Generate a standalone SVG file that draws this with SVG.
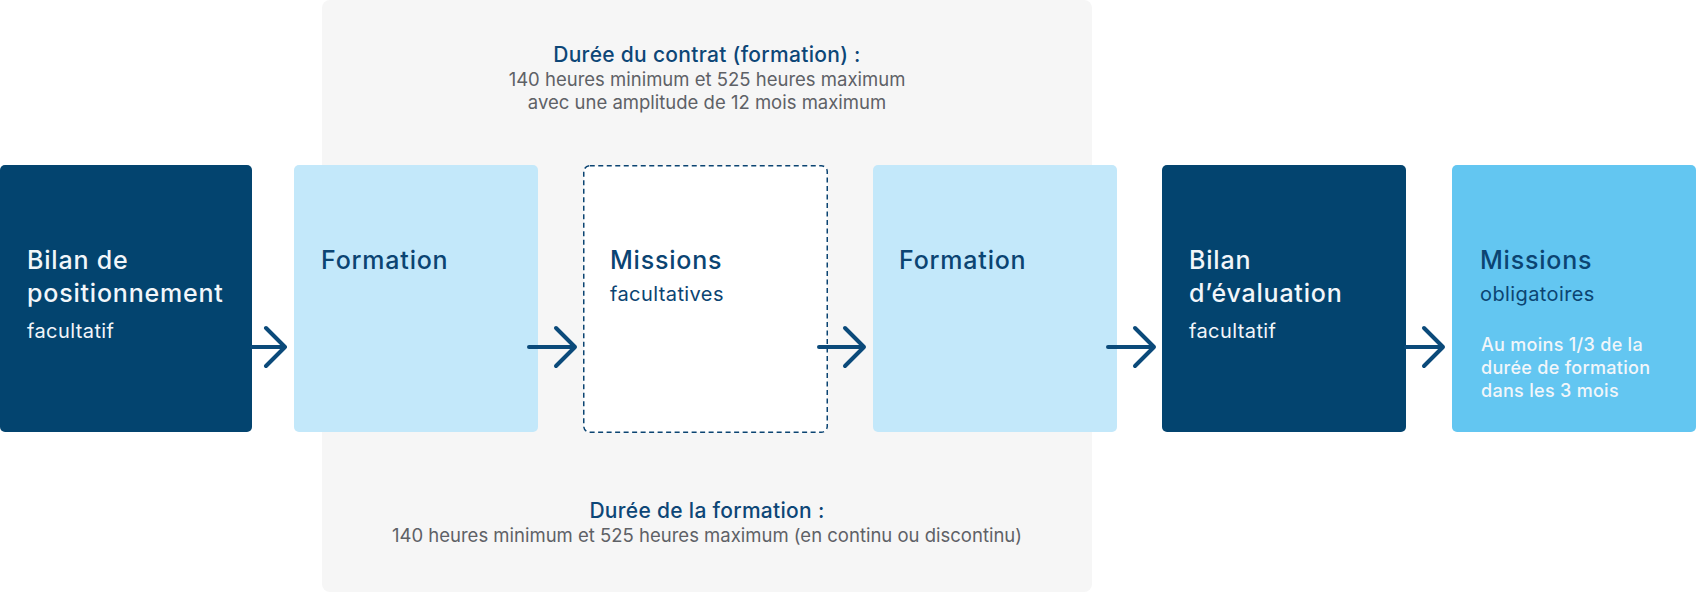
<svg xmlns="http://www.w3.org/2000/svg" width="1697" height="593" viewBox="0 0 1697 593">
<style>
text{font-family:Inter,"Noto Sans","Liberation Sans",sans-serif}
.t{font-size:25px;font-weight:500;letter-spacing:0.8px}
.s{font-size:20px;font-weight:400;letter-spacing:0.4px}
.n{font-size:18px;font-weight:500;letter-spacing:0.3px}
.w{fill:#F2F6FA}
.d{fill:#0B4472}
.dark{fill:#03446F}
.light{fill:#C3E8FA}
.sky{fill:#63C6F1}
.h{font-size:21px;font-weight:500;fill:#0D4677;letter-spacing:0.3px}
.g{font-size:18.5px;font-weight:400;fill:#5E6166}
.arr{fill:none;stroke:#0B4A7A;stroke-width:4;stroke-linecap:round;stroke-linejoin:round}
</style>
<rect x="0" y="0" width="1697" height="593" fill="#FFFFFF"/>
<g id="panel">
<rect x="322" y="0" width="770" height="592" rx="8" fill="#F6F6F6"/>
<text class="h" x="707" y="62" text-anchor="middle">Durée du contrat (formation) :</text>
<text class="g" x="707" y="86" text-anchor="middle">140 heures minimum et 525 heures maximum</text>
<text class="g" x="707" y="109" text-anchor="middle">avec une amplitude de 12 mois maximum</text>
<text class="h" x="707" y="518" text-anchor="middle">Durée de la formation :</text>
<text class="g" x="707" y="542" text-anchor="middle">140 heures minimum et 525 heures maximum (en continu ou discontinu)</text>
</g>
<g id="n1">
<rect class="dark" x="0" y="165" width="252" height="267" rx="5"/>
<text class="t w" x="27" y="269">Bilan de</text>
<text class="t w" x="27" y="302">positionnement</text>
<text class="s w" x="27" y="338">facultatif</text>
</g>
<g id="n2">
<rect class="light" x="294" y="165" width="244" height="267" rx="5"/>
<text class="t d" x="321" y="269">Formation</text>
</g>
<g id="n3">
<rect x="583.75" y="165.75" width="243.5" height="266.5" rx="6" fill="#FFFFFF" stroke="#0B4472" stroke-width="1.5" stroke-dasharray="5 3.5"/>
<text class="t d" x="610" y="269">Missions</text>
<text class="s d" x="610" y="301">facultatives</text>
</g>
<g id="n4">
<rect class="light" x="873" y="165" width="244" height="267" rx="5"/>
<text class="t d" x="899" y="269">Formation</text>
</g>
<g id="n5">
<rect class="dark" x="1162" y="165" width="244" height="267" rx="5"/>
<text class="t w" x="1189" y="269">Bilan</text>
<text class="t w" x="1189" y="302">d’évaluation</text>
<text class="s w" x="1189" y="338">facultatif</text>
</g>
<g id="n6">
<rect class="sky" x="1452" y="165" width="244" height="267" rx="5"/>
<text class="t d" x="1480" y="269">Missions</text>
<text class="s d" x="1480" y="301">obligatoires</text>
<text class="n w" x="1481" y="351">Au moins 1/3 de la</text>
<text class="n w" x="1481" y="374">durée de formation</text>
<text class="n w" x="1481" y="397">dans les 3 mois</text>
</g>
<g id="connectors">
<path class="arr" d="M252 347H285M266 328L285 347L266 366"/>
<path class="arr" d="M529 347H575M556 328L575 347L556 366"/>
<path class="arr" d="M819 347H864M845 328L864 347L845 366"/>
<path class="arr" d="M1108 347H1154M1135 328L1154 347L1135 366"/>
<path class="arr" d="M1406 347H1443M1424 328L1443 347L1424 366"/>
</g>
</svg>
